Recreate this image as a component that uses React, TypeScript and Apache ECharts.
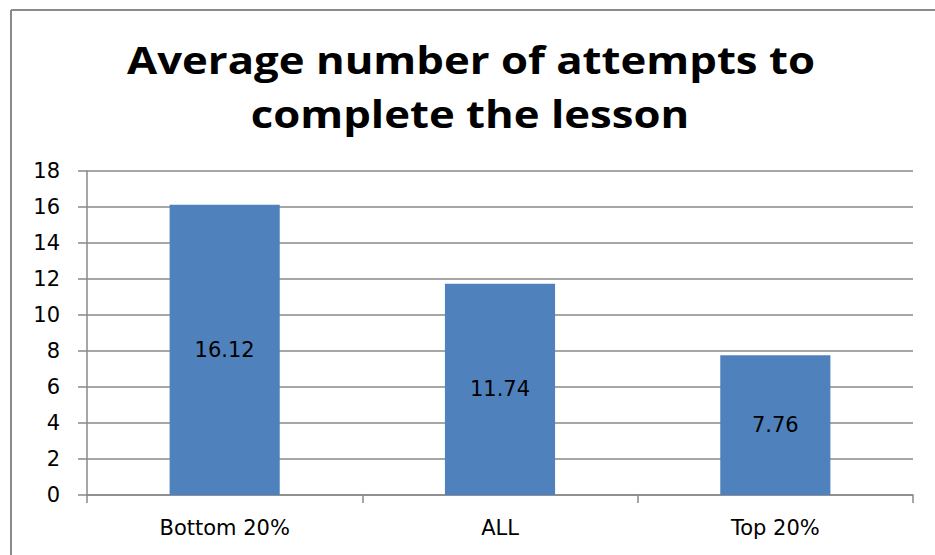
import React, { useEffect, useRef } from "react";
import * as echarts from "echarts";

const categories = ["Bottom 20%", "ALL", "Top 20%"];
const values = [16.12, 11.74, 7.76];
const titleLines = ["Average number of attempts to", "complete the lesson"];

export default function App() {
  const ref = useRef<HTMLDivElement>(null);
  useEffect(() => {
    if (!ref.current) return;
    const chart = echarts.init(ref.current, null, { renderer: "svg" });
    const gray = "#898989";
    const titleStyle = {
      fontFamily: "Open Sans",
      fontWeight: "bold",
      fontSize: 38,
      fill: "#000000",
      align: "center",
      verticalAlign: "middle",
    };
    chart.setOption({
      animation: false,
      backgroundColor: "#ffffff",
      graphic: [
        { type: "line", shape: { x1: 11, y1: 10, x2: 935, y2: 10 }, style: { stroke: "#8a8a8a", lineWidth: 2 } },
        { type: "line", shape: { x1: 11, y1: 10, x2: 11, y2: 555 }, style: { stroke: "#8a8a8a", lineWidth: 2 } },
        {
          type: "text",
          x: 471,
          y: 59,
          scaleX: 1.15,
          style: { ...titleStyle, text: titleLines[0] },
        },
        {
          type: "text",
          x: 470,
          y: 113,
          scaleX: 1.15,
          style: { ...titleStyle, text: titleLines[1] },
        },
      ],
      grid: { left: 87, right: 22, top: 171, bottom: 60 },
      xAxis: {
        type: "category",
        data: categories,
        axisLine: { lineStyle: { color: gray, width: 1.5 } },
        axisTick: { show: true, alignWithLabel: false, length: 8, lineStyle: { color: gray, width: 1.5 } },
        axisLabel: { color: "#000", fontFamily: "DejaVu Sans", fontSize: 21, margin: 22 },
      },
      yAxis: {
        type: "value",
        min: 0,
        max: 18,
        interval: 2,
        axisLine: { show: true, lineStyle: { color: gray, width: 1.5 } },
        axisTick: { show: true, length: 9, lineStyle: { color: gray, width: 1.5 } },
        splitLine: { lineStyle: { color: gray, width: 1.5 } },
        axisLabel: { color: "#000", fontFamily: "DejaVu Sans", fontSize: 21, margin: 27 },
      },
      series: [
        {
          type: "bar",
          data: values,
          barWidth: "40%",
          itemStyle: { color: "#4F81BD" },
          label: {
            show: true,
            position: "inside",
            color: "#000",
            fontFamily: "DejaVu Sans",
            fontSize: 21,
          },
        },
      ],
    });
    return () => chart.dispose();
  }, []);
  return <div ref={ref} style={{ position: "fixed", left: 0, top: 0, width: 935, height: 555 }} />;
}
